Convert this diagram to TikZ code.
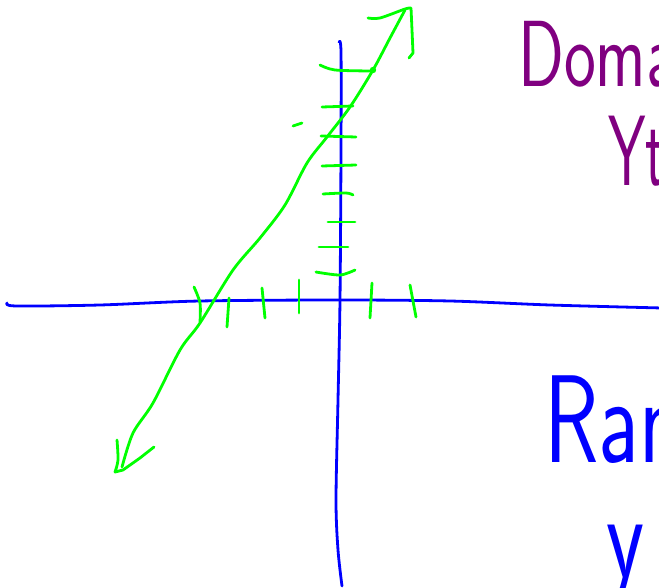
\documentclass[tikz,border=0pt]{standalone}
\usepackage{xcolor}
\usepackage{tikz}
\usetikzlibrary{positioning}
\definecolor{inkblue}{RGB}{0,0,255}
\definecolor{inkgreen}{RGB}{0,255,0}
\definecolor{inkpurple}{RGB}{128,0,128}
\begin{document}
\begin{tikzpicture}[x=1pt, y=-1pt,
  axisln/.style={draw=inkblue, line width=2.8pt, line cap=round, line join=round},
  greenln/.style={draw=inkgreen, line width=2.8pt, line cap=round, line join=round},
  handtxt/.style={anchor=base west, inner sep=0pt, font=\sffamily}
]
\useasboundingbox (0,0) rectangle (659,588);
\draw[axisln] plot[smooth, tension=0.5] coordinates {(7,303) (16,306) (100,305) (200,301) (340,300) (450,301) (550,305) (662,308)};
\draw[axisln] plot[smooth, tension=0.5] coordinates {(339,42) (341,52) (341,150) (340,300) (338,400) (336,500) (338,550) (342,586)};
\draw[greenln] plot[smooth, tension=0.5] coordinates {(122,467) (133,433) (153,403) (180,350) (200,323) (233,270) (260,238) (285,205) (307,163) (327,137) (350,107) (373,70) (390,38) (405,10)};
\draw[greenln] plot[smooth, tension=0.5] coordinates {(368,18) (380,18) (405,9) (411,8)} -- (412,30) -- (413,53) -- (409,58);
\draw[greenln] plot[smooth, tension=0.5] coordinates {(117,440) (118,460) (115,472)} -- (123,470) -- (140,458) -- (154,447);
\fill[inkgreen] (373,70) circle (3.2pt);
\draw[greenln] (293,126) -- (302,123);
\draw[greenln] plot[smooth, tension=0.5] coordinates {(320,65) (335,70) (372,71)};
\draw[greenln] (322,107) -- (353,106);
\draw[greenln] (321,136) -- (356,137);
\draw[greenln] (322,166) -- (356,165);
\draw[greenln] plot[smooth, tension=0.5] coordinates {(323,194) (346,193) (353,195)};
\draw[greenln] (328,222) -- (355,222);
\draw[greenln] (319,247) -- (348,247);
\draw[greenln] plot[smooth, tension=0.5] coordinates {(316,272) (340,275) (355,270)};
\draw[greenln] plot[smooth, tension=0.5] coordinates {(194,287) (200,303) (200,322)};
\draw[greenln] (229,298) -- (227,327);
\draw[greenln] (262,288) -- (265,318);
\draw[greenln] (299,280) -- (299,313);
\draw[greenln] (372,283) -- (370,318);
\draw[greenln] (410,285) -- (416,317);
\node[handtxt, text=inkpurple] (domlabel) at (518,87) {\fontsize{94}{94}\selectfont\scalebox{0.72}[1]{Domain}};
\node[handtxt, text=inkpurple] (domvar) at (608,186) {\fontsize{100}{100}\selectfont\scalebox{0.6}[1]{Yt}};
\node[handtxt, text=inkblue] (rangelabel) at (544,462) {\fontsize{125}{125}\selectfont\scalebox{0.72}[1]{Range}};
\node[handtxt, text=inkblue] (rangevar) at (606,577) {\fontsize{122}{122}\selectfont\scalebox{0.72}[1]{y}};
\end{tikzpicture}
\end{document}
